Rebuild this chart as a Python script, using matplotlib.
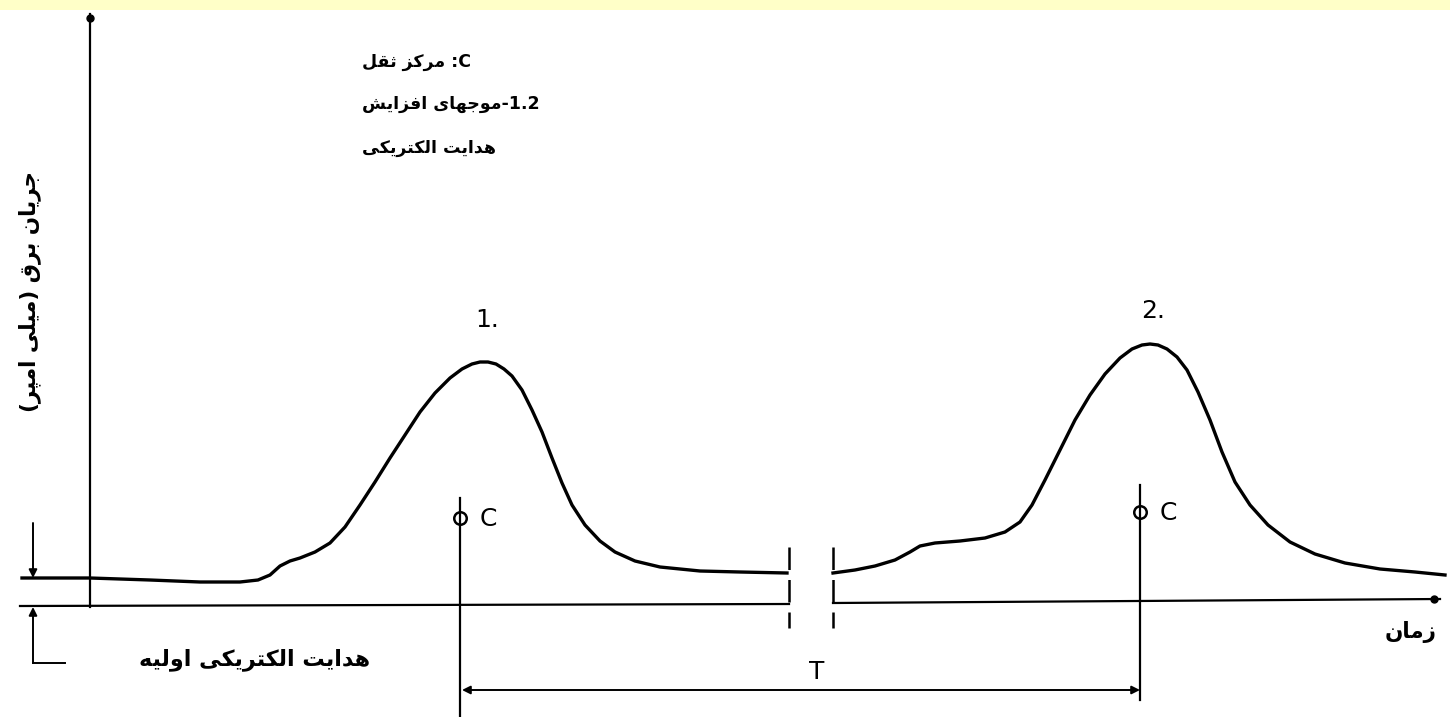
import numpy as np
import matplotlib.pyplot as plt

# conductivity trace, before and after the break in the time axis
left_x = [22, 90, 150, 200, 240, 258, 270, 280, 290, 300, 315, 330, 345, 360, 375, 390,
          405, 420, 435, 450, 462, 472, 480, 488, 496, 504, 512, 522, 532, 542, 552, 562,
          572, 585, 600, 615, 635, 660, 700, 740, 787]
left_y = [578, 578, 580, 582, 582, 580, 575, 566, 561, 558, 552, 543, 527, 505, 482, 458,
          435, 412, 393, 378, 369, 364, 362, 362, 364, 369, 376, 390, 410, 432, 458, 483,
          505, 525, 541, 552, 561, 567, 571, 572, 573]
right_x = [833, 855, 875, 895, 910, 920, 935, 960, 985, 1005, 1020, 1032, 1045, 1060, 1075,
           1090, 1105, 1120, 1132, 1142, 1150, 1158, 1167, 1177, 1187, 1198, 1210, 1222,
           1235, 1250, 1268, 1290, 1315, 1345, 1380, 1415, 1445]
right_y = [573, 570, 566, 560, 552, 546, 543, 541, 538, 532, 522, 505, 480, 450, 420,
           395, 374, 358, 349, 345, 344, 345, 349, 357, 370, 392, 420, 452,
           482, 505, 525, 542, 554, 563, 569, 572, 575]

# centroids of the two waves
centroid_x = [460, 1140]
centroid_y = [518, 512]
peak_labels = ["1.", "2."]

# minimal Persian shaping: isolated, final, initial, medial forms
FORMS = {
    'ا': (0xFE8D, 0xFE8E), 'د': (0xFEA9, 0xFEAA), 'ذ': (0xFEAB, 0xFEAC),
    'ر': (0xFEAD, 0xFEAE), 'ز': (0xFEAF, 0xFEB0), 'و': (0xFEED, 0xFEEE),
    'ب': (0xFE8F, 0xFE90, 0xFE91, 0xFE92), 'پ': (0xFB56, 0xFB57, 0xFB58, 0xFB59),
    'ت': (0xFE95, 0xFE96, 0xFE97, 0xFE98), 'ث': (0xFE99, 0xFE9A, 0xFE9B, 0xFE9C),
    'ج': (0xFE9D, 0xFE9E, 0xFE9F, 0xFEA0), 'س': (0xFEB1, 0xFEB2, 0xFEB3, 0xFEB4),
    'ش': (0xFEB5, 0xFEB6, 0xFEB7, 0xFEB8), 'ف': (0xFED1, 0xFED2, 0xFED3, 0xFED4),
    'ق': (0xFED5, 0xFED6, 0xFED7, 0xFED8), 'ک': (0xFB8E, 0xFB8F, 0xFB90, 0xFB91),
    'ل': (0xFEDD, 0xFEDE, 0xFEDF, 0xFEE0), 'م': (0xFEE1, 0xFEE2, 0xFEE3, 0xFEE4),
    'ن': (0xFEE5, 0xFEE6, 0xFEE7, 0xFEE8), 'ه': (0xFEE9, 0xFEEA, 0xFEEB, 0xFEEC),
    'ی': (0xFBFC, 0xFBFD, 0xFBFE, 0xFBFF),
}
MIRROR = str.maketrans('()', ')(')


def fa(text):
    out = []
    for i, ch in enumerate(text):
        f = FORMS.get(ch)
        if f is None:
            out.append(ch)
            continue
        prev = text[i - 1] if i > 0 else ''
        nxt = text[i + 1] if i + 1 < len(text) else ''
        jp = prev in FORMS and len(FORMS[prev]) == 4
        jn = len(f) == 4 and nxt in FORMS
        out.append(chr(f[int(jp) + 2 * int(jn)]))
    return ''.join(reversed(out)).translate(MIRROR)


legend_lines = [fa('مرکز ثقل') + ' :C',
                fa('موجهای افزایش') + '-1.2',
                fa('هدایت الکتریکی')]
ylabel = fa('جریان برق (میلی امپر)')
xlabel = fa('زمان')
base_label = fa('هدایت الکتریکی اولیه')

fig = plt.figure(figsize=(14.5, 7.17), dpi=100)
ax = fig.add_axes([0, 0, 1, 1])
ax.set_xlim(0, 1450)
ax.set_ylim(717, 0)
ax.axis('off')

ax.axhspan(0, 10, color='#FFFFC8', lw=0)

k = 'black'
fa_font = dict(family=['DejaVu Sans'], weight='bold')

# axes of the sketch
ax.plot([90, 90], [14, 607], color=k, lw=1.6)
ax.plot([90], [18], marker='o', ms=5, color=k)
ax.plot([20, 789], [606, 604], color=k, lw=1.6)
ax.plot([833, 1440], [603, 599], color=k, lw=1.6)
ax.plot([1434], [599], marker='o', ms=5, color=k)

# break marks
for bx in [789, 833]:
    ax.plot([bx, bx], [547, 628], color=k, lw=1.8, dashes=(9, 4))

# trace
ax.plot(left_x, left_y, color=k, lw=2.4, solid_joinstyle='round')
ax.plot(right_x, right_y, color=k, lw=2.4, solid_joinstyle='round')

# centroid markers
ax.plot([centroid_x[0]] * 2, [498, 717], color=k, lw=1.6)
ax.plot([centroid_x[1]] * 2, [485, 700], color=k, lw=1.6)
for cx, cy in zip(centroid_x, centroid_y):
    ax.plot([cx], [cy], marker='o', ms=9, mfc='none', mec=k, mew=1.8)
    ax.text(cx + 20, cy + 1, 'C', fontsize=18, ha='left', va='center')

# peak numbers
for lx, ly, lab in zip([487, 1153], [320, 311], peak_labels):
    ax.text(lx, ly, lab, fontsize=18, ha='center', va='center')

# period T
ax.annotate('', xy=(centroid_x[0] + 2, 690), xytext=(centroid_x[1], 690),
            arrowprops=dict(arrowstyle='<|-|>', color=k, lw=1.4,
                            mutation_scale=12, shrinkA=0, shrinkB=0))
ax.text(817, 672, 'T', fontsize=18, ha='center', va='center')

# initial conductivity bracket
ax.annotate('', xy=(33, 578), xytext=(33, 523),
            arrowprops=dict(arrowstyle='-|>', color=k, lw=1.4,
                            mutation_scale=12, shrinkA=0, shrinkB=0))
ax.annotate('', xy=(33, 607), xytext=(33, 663),
            arrowprops=dict(arrowstyle='-|>', color=k, lw=1.4,
                            mutation_scale=12, shrinkA=0, shrinkB=0))
ax.plot([33, 65], [663, 663], color=k, lw=1.4)

# texts
for ty, line in zip([62, 104, 148], legend_lines):
    ax.text(362, ty, line, fontsize=12.5, ha='left', va='center', **fa_font)
ax.text(30, 292, ylabel, fontsize=15.5, rotation=90, ha='center', va='center', **fa_font)
ax.text(1411, 632, xlabel, fontsize=15.5, ha='center', va='center', **fa_font)
ax.text(255, 660, base_label, fontsize=16, ha='center', va='center', **fa_font)

fig.savefig('out.png', dpi=100)
